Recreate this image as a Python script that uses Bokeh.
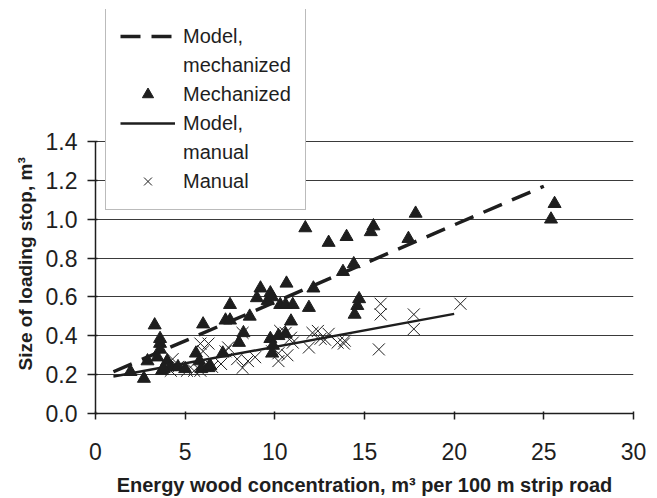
from bokeh.plotting import figure
from bokeh.models import Range1d, FixedTicker, NumeralTickFormatter, Legend, LegendItem, Title
from bokeh.embed import file_html
from bokeh.resources import INLINE

# Mechanized loading stops (triangles)
mech_x = [1.95, 2.7, 3.3, 3.6, 3.6, 3.6, 3.45, 3.7, 4.0, 4.2, 4.6, 5.0, 5.6, 5.8, 5.9,
          6.0, 6.3, 7.1, 7.25, 7.5, 7.5, 8.0, 8.25, 8.6, 9.0, 9.2, 9.6, 9.75, 9.85,
          9.75, 9.9, 9.85, 10.2, 10.65, 10.3, 10.6, 11.0, 10.9, 10.6, 11.7, 11.9, 12.15,
          13.0, 14.0, 15.5, 15.35, 13.8, 14.4, 14.7, 14.6, 14.45, 17.85, 17.45,
          25.6, 25.4, 2.9, 3.8, 6.4]
mech_y = [0.215, 0.18, 0.455, 0.385, 0.36, 0.33, 0.29, 0.22, 0.27, 0.24, 0.24, 0.23, 0.31, 0.27, 0.23,
          0.46, 0.235, 0.31, 0.48, 0.48, 0.56, 0.365, 0.415, 0.50, 0.595, 0.645, 0.58, 0.62, 0.60,
          0.385, 0.35, 0.31, 0.40, 0.67, 0.56, 0.56, 0.56, 0.475, 0.41, 0.955, 0.545, 0.645,
          0.88, 0.91, 0.965, 0.935, 0.73, 0.77, 0.59, 0.555, 0.51, 1.03, 0.90,
          1.08, 1.00, 0.27, 0.23, 0.245]

# Manual loading stops (crosses)
man_x = [4.3, 4.2, 4.6, 5.1, 5.5, 5.85, 6.3, 6.0, 5.85, 6.1, 6.5, 7.0, 7.25, 7.4, 7.9,
         8.2, 8.2, 8.5, 8.9, 9.85, 10.2, 10.2, 10.7, 10.3, 10.6, 11.0, 10.9, 11.9, 12.1,
         12.4, 12.55, 13.0, 12.8, 13.5, 13.85, 13.9, 15.9, 15.9, 15.8, 17.75, 17.75, 20.35]
man_y = [0.28, 0.22, 0.24, 0.22, 0.22, 0.36, 0.36, 0.32, 0.22, 0.245, 0.24, 0.255, 0.32, 0.34, 0.28,
         0.235, 0.415, 0.27, 0.29, 0.32, 0.31, 0.27, 0.30, 0.425, 0.415, 0.365, 0.39, 0.34, 0.415,
         0.425, 0.385, 0.41, 0.38, 0.365, 0.36, 0.375, 0.565, 0.51, 0.33, 0.51, 0.435, 0.565]

# Model lines
mech_model_x = [1.0, 25.0]
mech_model_y = [0.215, 1.17]
man_model_x = [1.0, 20.0]
man_model_y = [0.19, 0.513]

x_ticks = [0, 5, 10, 15, 20, 25, 30]
y_ticks = [0.0, 0.2, 0.4, 0.6, 0.8, 1.0, 1.2, 1.4]

FONT = "Liberation Sans"
INK = "#1e1e1e"

# the frame reaches above 1.4 so that the legend (which sits above the axis top) is not clipped
p = figure(width=650, height=498, output_backend="svg", toolbar_location=None,
           x_range=Range1d(0, 30), y_range=Range1d(0, 2.08),
           min_border_left=95, min_border_right=17, min_border_top=9, min_border_bottom=85,
           background_fill_color="white", border_fill_color="white")
p.outline_line_color = None

r_mech_line = p.line(mech_model_x, mech_model_y, line_color=INK, line_width=3.5, line_dash="20 11")
r_man_line = p.line(man_model_x, man_model_y, line_color=INK, line_width=2.5)
r_mech = p.scatter(mech_x, mech_y, marker="triangle", size=13, fill_color=INK, line_color=INK)
r_man = p.scatter(man_x, man_y, marker="x", size=17, line_color=INK, line_width=1)
blank = p.line([], [], line_alpha=0)

p.xgrid.grid_line_color = None
p.ygrid.grid_line_color = "#3a3a3a"
p.ygrid.grid_line_width = 1

p.xaxis.ticker = FixedTicker(ticks=x_ticks)
p.yaxis.ticker = FixedTicker(ticks=y_ticks)
p.yaxis.formatter = NumeralTickFormatter(format="0.0")
p.yaxis.bounds = (0, 1.4)
p.xaxis.minor_tick_line_color = None
p.yaxis.minor_tick_line_color = None

for ax in (p.xaxis[0], p.yaxis[0]):
    ax.axis_line_color = INK
    ax.axis_line_width = 1.5
    ax.major_tick_line_color = INK
    ax.major_tick_line_width = 1.5
    ax.major_label_text_font = FONT
    ax.major_label_text_font_size = "23px"
    ax.major_label_text_color = INK
    ax.major_label_text_line_height = 1.0
    ax.axis_label_text_font = FONT
    ax.axis_label_text_font_size = "20px"
    ax.axis_label_text_font_style = "bold"
    ax.axis_label_text_color = INK
    ax.axis_label_text_line_height = 1.0

p.xaxis.major_tick_in = 2
p.xaxis.major_tick_out = 6
p.yaxis.major_tick_in = 2
p.yaxis.major_tick_out = 8
p.xaxis.major_label_standoff = 23
p.yaxis.major_label_standoff = 10
p.xaxis.axis_label_standoff = 11
p.xaxis.axis_label = "Energy wood concentration, m³ per 100 m strip road"

# y axis title, placed along the 0-1.4 part of the axis
ytitle = Title(text="Size of loading stop, m³", align="left", offset=43, standoff=13,
               text_font=FONT, text_font_size="19px", text_font_style="bold", text_color=INK)
p.add_layout(ytitle, "left")

items = [
    LegendItem(label="Model,", renderers=[r_mech_line]),
    LegendItem(label="mechanized", renderers=[blank]),
    LegendItem(label="Mechanized", renderers=[r_mech]),
    LegendItem(label="Model,", renderers=[r_man_line]),
    LegendItem(label="manual", renderers=[blank]),
    LegendItem(label="Manual", renderers=[r_man]),
]
legend = Legend(items=items, location=(10, 203), padding=14, spacing=1, margin=0,
                glyph_width=55, glyph_height=28, label_height=28, label_standoff=8,
                label_text_font=FONT, label_text_font_size="20px", label_text_color=INK,
                border_line_color="#777777", border_line_width=1,
                background_fill_color="white", background_fill_alpha=1)
p.add_layout(legend, "center")

open("out.html", "w").write(file_html(p, INLINE))
